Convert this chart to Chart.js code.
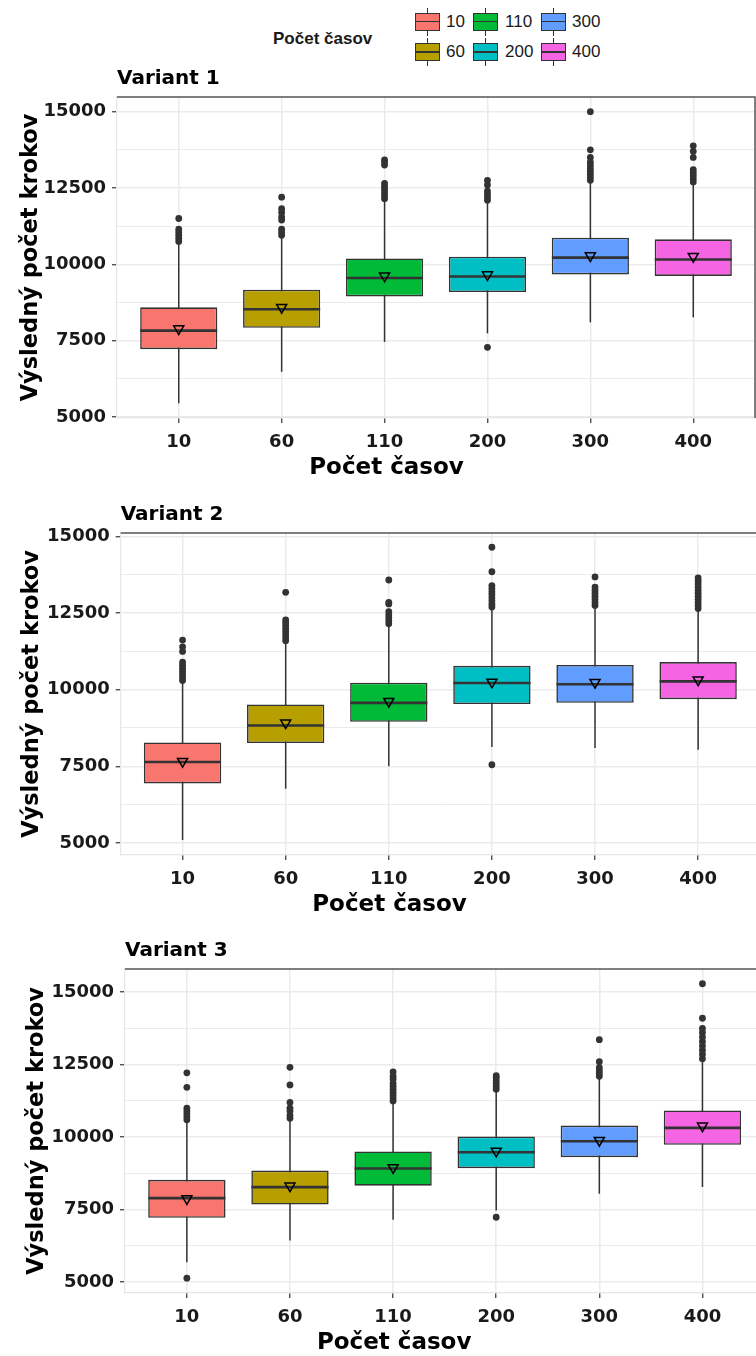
<!DOCTYPE html>
<html>
<head>
<meta charset="utf-8">
<script src="https://cdn.jsdelivr.net/npm/chart.js@4.4.1/dist/chart.umd.min.js"></script>
<style>
  body { margin: 0; background: #fff; width: 756px; height: 1356px; overflow: hidden; position: relative; }
  canvas { position: absolute; left: 0; }
  .lg { position: absolute; font-family: 'Liberation Sans', Arial, sans-serif; color: #1a1a1a; }
  .lg-title { left: 273px; top: 29px; font-size: 17px; font-weight: bold; }
  .lg-label { font-size: 17px; line-height: 20px; }
  .key { position: absolute; width: 25px; height: 18px; }
  .key .wh { position: absolute; left: 11.5px; top: -5px; width: 1.5px; height: 28px; background: #333; }
  .key .bx { position: absolute; left: 0; top: 0; width: 25px; height: 18px; box-sizing: border-box; border: 1.5px solid #333; }
  .key .md { position: absolute; left: 0; top: 8.2px; width: 25px; height: 1.5px; background: #333; }
</style>
</head>
<body>
<div id="legend"></div>
<canvas id="c1" width="790" height="426" style="top:60px"></canvas>
<canvas id="c2" width="790" height="427" style="top:496px"></canvas>
<canvas id="c3" width="790" height="429" style="top:932px"></canvas>
<script>
var categories = ['10', '60', '110', '200', '300', '400'];
var boxColors = ['#F8766D', '#B79F00', '#00BA38', '#00BFC4', '#619CFF', '#F564E3'];
var yMajorTicks = [5000, 7500, 10000, 12500, 15000];
var yMinorTicks = [6250, 8750, 11250, 13750];

// Variant 1
var v1Low    = [5450, 6480, 7460, 7740, 8100, 8260];
var v1Q1     = [7220, 7920, 8950, 9090, 9670, 9620];
var v1Median = [7830, 8530, 9550, 9600, 10220, 10160];
var v1Q3     = [8590, 9170, 10190, 10250, 10870, 10820];
var v1High   = [10680, 10890, 12050, 12030, 12690, 12630];
var v1Mean   = [7890, 8590, 9620, 9660, 10280, 10260];
var v1Outliers = [
  [10750, 10850, 10950, 11050, 11150, 11500],
  [10950, 11050, 11150, 11450, 11550, 11700, 11820, 12200],
  [12150, 12250, 12350, 12450, 12550, 12650, 13250, 13350, 13420],
  [7280, 12100, 12200, 12300, 12400, 12600, 12750],
  [12750, 12850, 12950, 13050, 13150, 13250, 13350, 13500, 13750, 15000],
  [12700, 12800, 12900, 13000, 13100, 13500, 13700, 13880]
];

// Variant 2
var v2Low    = [5090, 6770, 7500, 8130, 8100, 8040];
var v2Q1     = [6940, 8260, 8950, 9530, 9570, 9690];
var v2Median = [7640, 8830, 9570, 10220, 10180, 10270];
var v2Q3     = [8280, 9520, 10230, 10780, 10810, 10900];
var v2High   = [10220, 11520, 12120, 12660, 12710, 12600];
var v2Mean   = [7660, 8920, 9620, 10250, 10240, 10320];
var v2Outliers = [
  [10300, 10400, 10500, 10600, 10700, 10800, 10900, 11250, 11400, 11620],
  [11600, 11700, 11800, 11900, 12000, 12100, 12200, 12280, 13180],
  [12150, 12250, 12350, 12450, 12550, 12800, 12850, 13580],
  [7550, 12700, 12800, 12900, 13000, 13100, 13200, 13300, 13400, 13850, 14650],
  [12750, 12850, 12950, 13050, 13150, 13250, 13350, 13680],
  [12650, 12750, 12850, 12950, 13050, 13150, 13250, 13350, 13450, 13550, 13650]
];

// Variant 3
var v3Low    = [5690, 6440, 7150, 7470, 8050, 8280];
var v3Q1     = [7220, 7680, 8330, 8930, 9310, 9740];
var v3Median = [7900, 8280, 8920, 9480, 9860, 10320];
var v3Q3     = [8530, 8850, 9510, 10020, 10400, 10920];
var v3High   = [10520, 10580, 11210, 11610, 12070, 12640];
var v3Mean   = [7880, 8320, 8950, 9520, 9890, 10390];
var v3Outliers = [
  [5140, 10600, 10700, 10800, 10900, 11000, 11720, 12220],
  [10650, 10750, 10900, 11000, 11200, 11800, 12410],
  [11250, 11350, 11450, 11550, 11650, 11750, 11850, 12000, 12100, 12250],
  [7240, 11650, 11750, 11850, 11950, 12050, 12120],
  [12100, 12200, 12300, 12400, 12600, 13360],
  [12700, 12850, 13000, 13150, 13300, 13450, 13600, 13750, 14100, 15290]
];

// legend (column-major like ggplot)
var legend = document.getElementById('legend');
var t = document.createElement('div');
t.className = 'lg lg-title';
t.textContent = 'Počet časov';
legend.appendChild(t);
var colX = [415, 473, 541];
var labX = [446, 505, 572];
var rowY = [12.7, 43.3];
categories.forEach(function (c, i) {
  var col = Math.floor(i / 2), row = i % 2;
  var k = document.createElement('div');
  k.className = 'key';
  k.style.left = colX[col] + 'px';
  k.style.top = rowY[row] + 'px';
  k.innerHTML = '<div class="wh"></div><div class="bx" style="background:' + boxColors[i] + '"></div><div class="md"></div>';
  legend.appendChild(k);
  var l = document.createElement('div');
  l.className = 'lg lg-label';
  l.style.left = labX[col] + 'px';
  l.style.top = (rowY[row] - 1) + 'px';
  l.textContent = c;
  legend.appendChild(l);
});

var panelBorder = {
  id: 'panelBorder',
  afterDraw: function (chart, args, opts) {
    var ctx = chart.ctx, a = chart.chartArea;
    ctx.save();
    ctx.strokeStyle = '#555';
    ctx.lineWidth = 1.5;
    ctx.beginPath();
    ctx.moveTo(a.left, a.top);
    ctx.lineTo(a.right, a.top);
    if (opts.right) ctx.lineTo(a.right, a.bottom);
    ctx.stroke();
    ctx.restore();
  }
};

var tickFont = { family: 'DejaVu Sans', size: 18, weight: 'bold' };
var isMajor = function (ctx) { return ctx.tick && yMajorTicks.indexOf(ctx.tick.value) >= 0; };

function makePanel(id, p) {
  var boxes = categories.map(function (c, i) { return { x: i, y: [p.q1[i], p.q3[i]] }; });
  var whiskers = categories.map(function (c, i) { return { x: i, y: [p.low[i], p.high[i]] }; });
  var medians = categories.map(function (c, i) { return { x: i, y: p.median[i] }; });
  var means = categories.map(function (c, i) { return { x: i, y: p.mean[i] }; });
  var outliers = [];
  p.outliers.forEach(function (arr, i) {
    arr.forEach(function (v) { outliers.push({ x: i, y: v }); });
  });

  return new Chart(document.getElementById(id), {
    type: 'bar',
    data: {
      datasets: [
        { type: 'bar', data: whiskers, backgroundColor: '#333', maxBarThickness: 1.5,
          grouped: false, order: 4 },
        { type: 'bar', data: boxes, backgroundColor: boxColors, borderColor: '#333',
          borderWidth: 1.6, borderSkipped: false, grouped: false,
          barPercentage: 0.75, categoryPercentage: 1, order: 3 },
        { type: 'scatter', data: medians, pointStyle: 'line', pointRadius: 38.5,
          pointBorderColor: '#333', pointBorderWidth: 2.6, order: 2 },
        { type: 'scatter', data: means, pointStyle: 'triangle', rotation: 180, pointRadius: 5.8,
          pointBackgroundColor: 'rgba(0,0,0,0)', pointBorderColor: '#000', pointBorderWidth: 1.5, order: 1 },
        { type: 'scatter', data: outliers, pointRadius: 3.4, pointBackgroundColor: '#333',
          pointBorderWidth: 0, order: 0 }
      ]
    },
    options: {
      responsive: false,
      animation: false,
      events: [],
      layout: { autoPadding: false, padding: { left: p.padL, right: 790 - p.right, top: 0, bottom: 4 } },
      scales: {
        x: {
          type: 'linear', min: -0.6, max: 5.6, offset: false,
          afterFit: function (s) { s.height = 36.5; },
          ticks: { stepSize: 1, includeBounds: false, autoSkip: false, maxRotation: 0, padding: 9,
                   color: '#1a1a1a', font: tickFont,
                   callback: function (v) { return categories[v] !== undefined ? categories[v] : ''; } },
          grid: { offset: false, color: '#ebebeb', lineWidth: 1.5, tickLength: 5, tickColor: '#333', tickWidth: 1.2 },
          border: { color: '#e6e6e6', width: 1.2 }
        },
        y: {
          min: p.yMin, max: p.yMax, beginAtZero: false,
          afterFit: function (s) { s.width = p.left - p.padL; },
          afterBuildTicks: function (s) {
            s.ticks = yMajorTicks.concat(yMinorTicks)
              .filter(function (v) { return v >= p.yMin && v <= p.yMax; })
              .sort(function (a, b) { return a - b; })
              .map(function (v) { return { value: v }; });
          },
          ticks: { autoSkip: false, padding: 6, color: '#1a1a1a', font: tickFont,
                   callback: function (v) { return yMajorTicks.indexOf(v) >= 0 ? String(v) : ''; } },
          grid: { color: '#ebebeb',
                  lineWidth: function (ctx) { return isMajor(ctx) ? 1.5 : 1; },
                  tickLength: 5, tickWidth: 1.2,
                  tickColor: function (ctx) { return isMajor(ctx) ? '#333' : 'rgba(0,0,0,0)'; } },
          border: { color: '#e6e6e6', width: 1.2 },
          title: { display: true, text: 'Výsledný počet krokov', color: '#000',
                   font: { family: 'DejaVu Sans', size: 22.5, weight: 'bold' },
                   padding: { top: 0, bottom: 0 } }
        }
      },
      plugins: {
        legend: { display: false },
        tooltip: { enabled: false },
        title: { display: true, text: p.title, position: 'top', align: 'start', fullSize: false,
                 color: '#000', font: { family: 'DejaVu Sans', size: 20, weight: 'bold' },
                 padding: { top: 7, bottom: 6 } },
        subtitle: { display: true, text: 'Počet časov', position: 'bottom', color: '#000',
                    font: { family: 'DejaVu Sans', size: 23, weight: 'bold' },
                    padding: { top: 0, bottom: 0 } },
        panelBorder: { right: p.rightBorder }
      }
    },
    plugins: [panelBorder]
  });
}

makePanel('c1', { title: 'Variant 1', low: v1Low, q1: v1Q1, median: v1Median, q3: v1Q3, high: v1High,
  mean: v1Mean, outliers: v1Outliers, yMin: 4970, yMax: 15480, padL: 18, left: 117, right: 755, rightBorder: true });
makePanel('c2', { title: 'Variant 2', low: v2Low, q1: v2Q1, median: v2Median, q3: v2Q3, high: v2High,
  mean: v2Mean, outliers: v2Outliers, yMin: 4607, yMax: 15115, padL: 19, left: 120.7, right: 760, rightBorder: false });
makePanel('c3', { title: 'Variant 3', low: v3Low, q1: v3Q1, median: v3Median, q3: v3Q3, high: v3High,
  mean: v3Mean, outliers: v3Outliers, yMin: 4632, yMax: 15798, padL: 24, left: 125, right: 764.3, rightBorder: false });
</script>
</body>
</html>
